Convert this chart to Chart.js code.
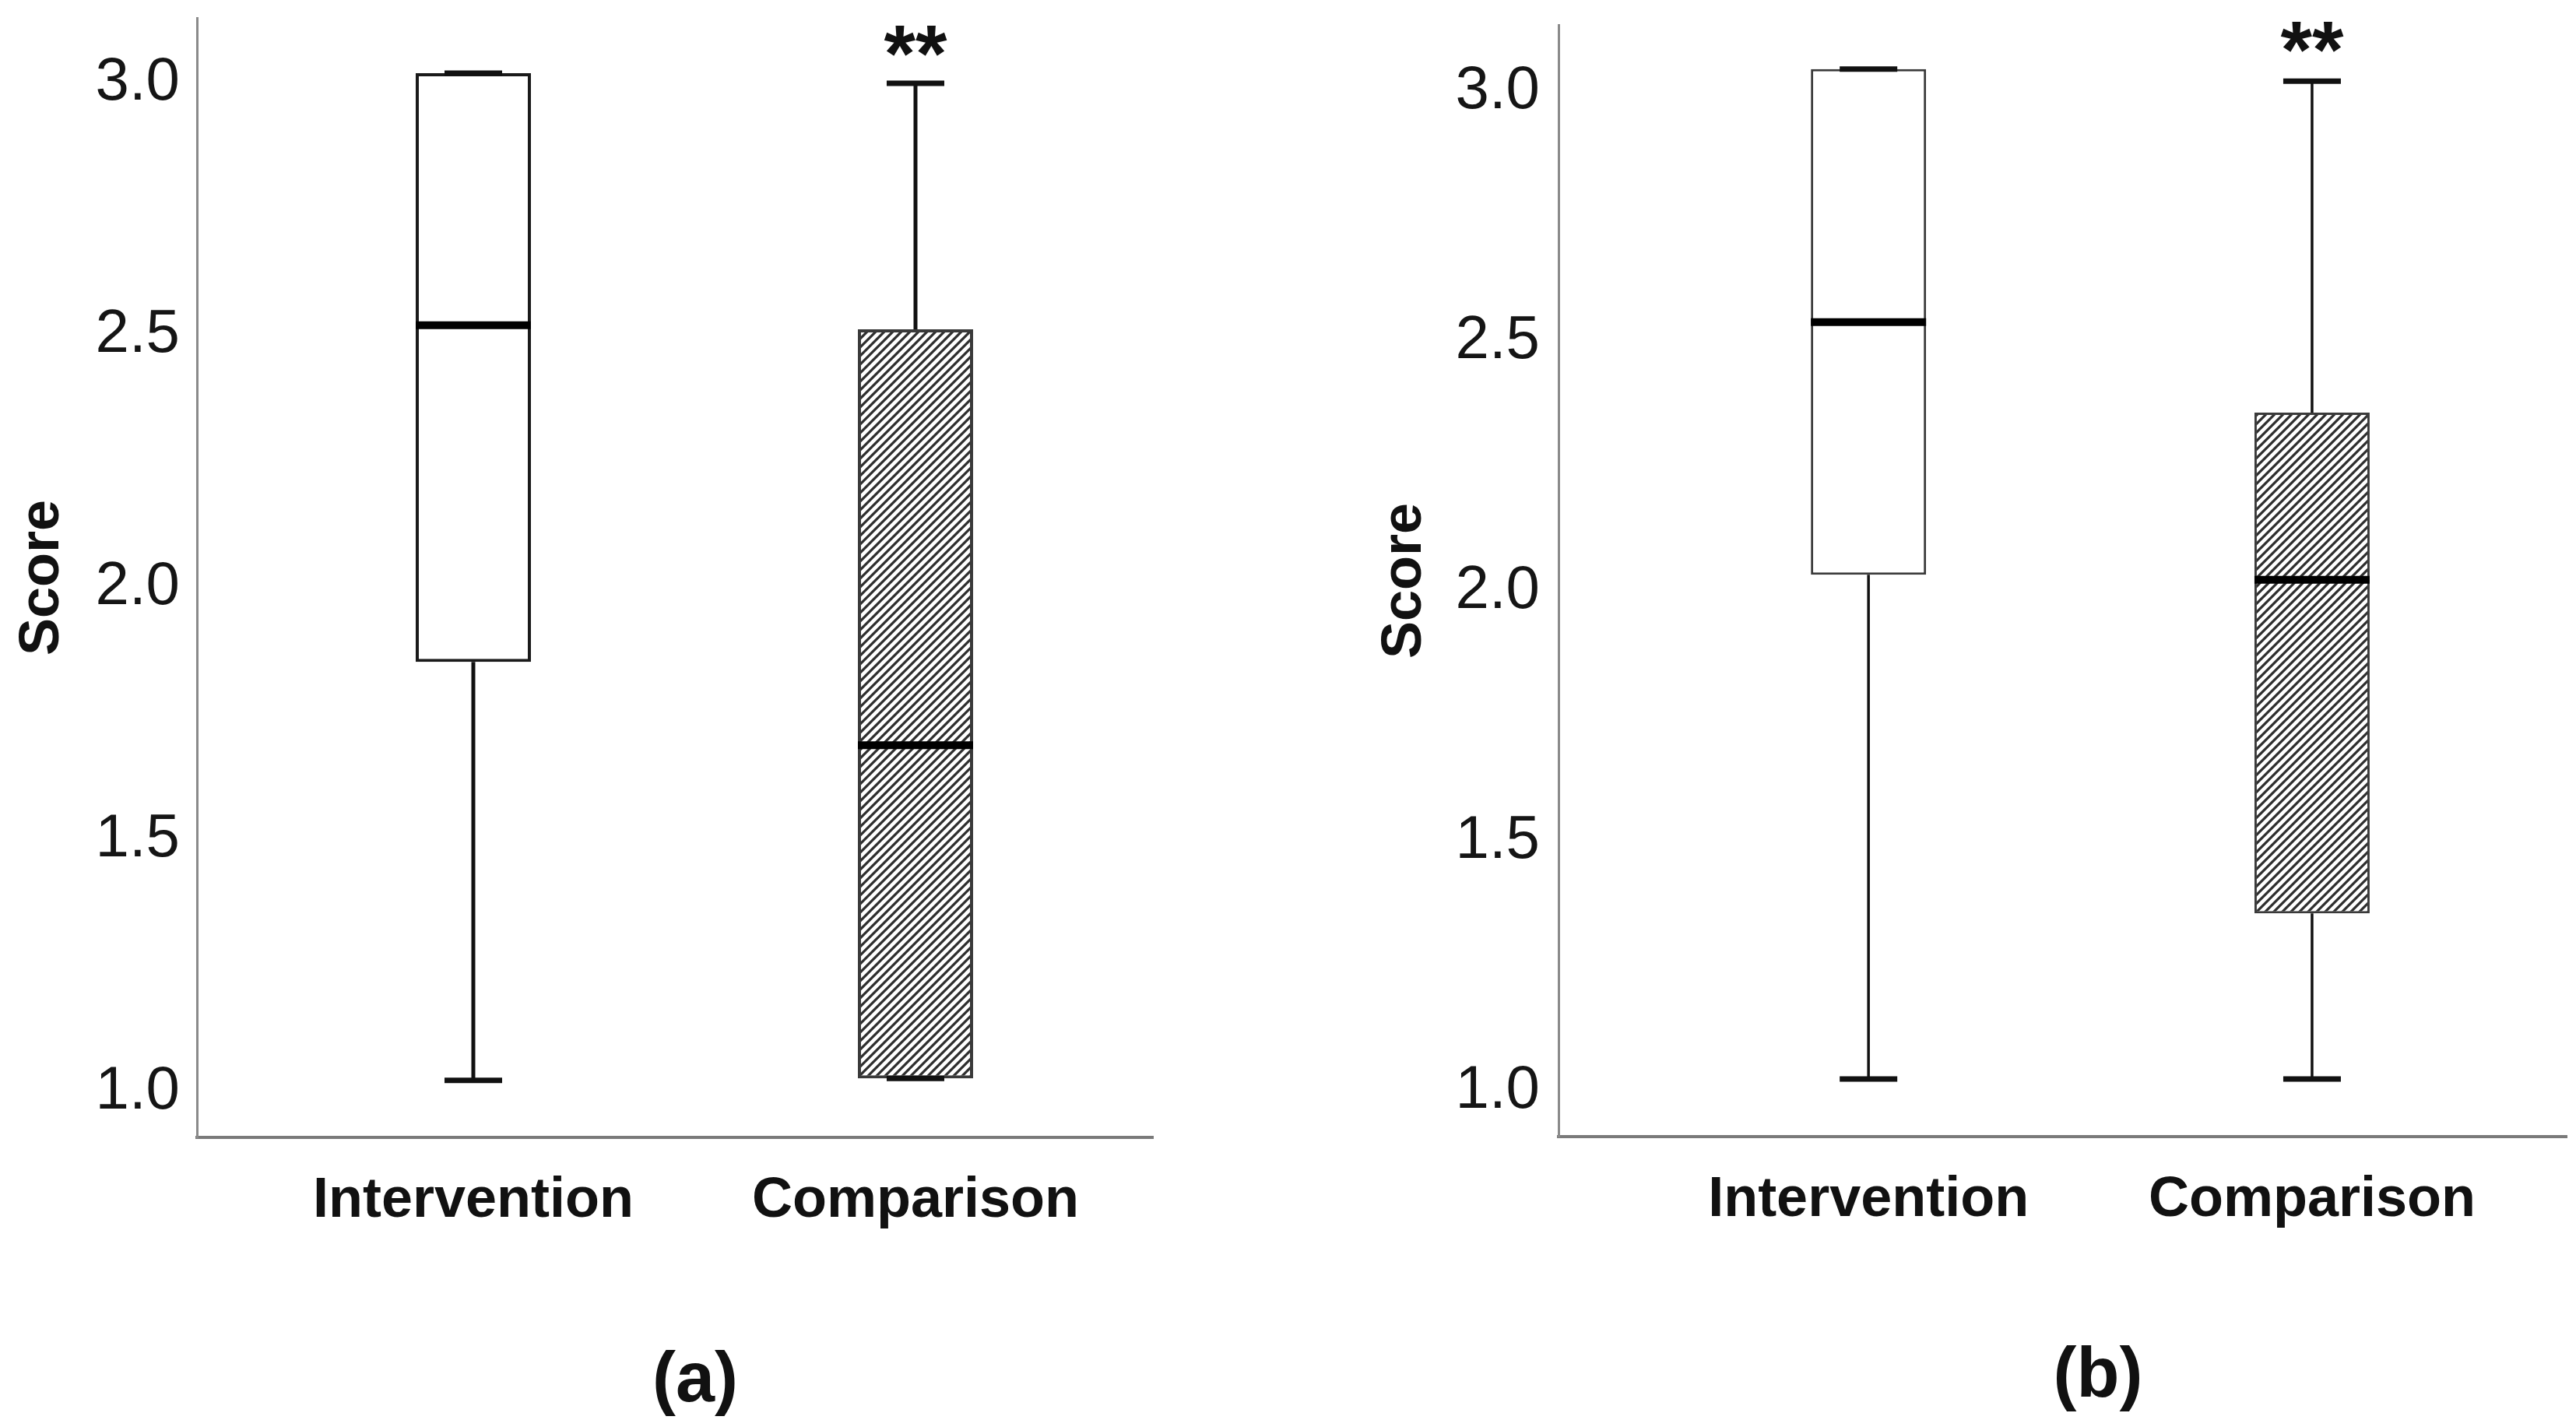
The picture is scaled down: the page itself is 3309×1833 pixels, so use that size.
<!DOCTYPE html>
<html>
<head>
<meta charset="utf-8">
<script src="https://cdn.jsdelivr.net/npm/chart.js@4.4.1/dist/chart.umd.min.js"></script>
<style>
  html, body { margin: 0; padding: 0; background: #ffffff; }
  .panel { position: absolute; top: 0; }
</style>
</head>
<body>
<div class="panel" style="left:0px;width:1650px;height:1833px;"><canvas id="chartA" width="1650" height="1833"></canvas></div>
<div class="panel" style="left:1650px;width:1659px;height:1833px;"><canvas id="chartB" width="1659" height="1833"></canvas></div>
<script>
// ---------------- data ----------------
const categories = ['Intervention', 'Comparison'];
const yTickValues = [1.0, 1.5, 2.0, 2.5, 3.0];
const yTickLabels = ['1.0', '1.5', '2.0', '2.5', '3.0'];
const yAxisTitle = 'Score';
const panelLabels = ['(a)', '(b)'];
const significance = ['', '**'];

// Panel (a): box-plot five-number summaries per category
const aMin    = [1.022, 1.026];
const aQ1     = [1.852, 1.026];
const aMedian = [2.520, 1.687];
const aQ3     = [3.020, 2.512];
const aMax    = [3.020, 3.000];

// Panel (b)
const bMin    = [1.025, 1.025];
const bQ1     = [2.033, 1.356];
const bMedian = [2.538, 2.023];
const bQ3     = [3.044, 2.357];
const bMax    = [3.044, 3.020];

// ---------------- styling helpers ----------------
const FONT = '"Liberation Sans", Arial, Helvetica, sans-serif';

function makeHatch() {
  const p = 11;
  const c = document.createElement('canvas');
  c.width = p; c.height = p;
  const g = c.getContext('2d');
  g.fillStyle = '#ffffff';
  g.fillRect(0, 0, p, p);
  g.strokeStyle = '#2e2e2e';
  g.lineWidth = 3.2;
  g.beginPath();
  g.moveTo(0, p); g.lineTo(p, 0);
  g.moveTo(-p / 2, p / 2); g.lineTo(p / 2, -p / 2);
  g.moveTo(p / 2, p * 1.5); g.lineTo(p * 1.5, p / 2);
  g.stroke();
  return g.createPattern(c, 'repeat');
}

const annotatePlugin = {
  id: 'annot',
  afterDraw(chart, args, opts) {
    const { ctx } = chart;
    const xs = chart.scales.x, ys = chart.scales.y;
    ctx.save();
    ctx.fillStyle = '#111111';
    ctx.textAlign = 'center';
    ctx.textBaseline = 'alphabetic';
    ctx.font = 'bold 104px ' + FONT;
    opts.marks.forEach((m, i) => {
      if (!m) return;
      ctx.fillText(m, xs.getPixelForValue(i + 1), ys.getPixelForValue(opts.max[i]) - opts.markGap);
    });
    ctx.font = 'bold 90px ' + FONT;
    ctx.fillText(opts.label, opts.labelX, opts.labelY);
    ctx.restore();
  }
};

function buildChart(canvasId, d, L) {
  const hatch = makeHatch();
  const pts = (arr) => arr.map((v, i) => ({ x: i + 1, y: v }));
  const rng = (lo, hi) => lo.map((v, i) => ({ x: i + 1, y: [v, hi[i]] }));

  const datasets = [
    { // medians
      type: 'scatter', order: 0, data: pts(d.median),
      pointStyle: 'line', pointRadius: L.boxW / 2, pointHoverRadius: L.boxW / 2, pointBorderWidth: 10,
      pointBorderColor: '#000000', pointBackgroundColor: '#000000', clip: false
    },
    { // whisker caps (max)
      type: 'scatter', order: 1, data: pts(d.max),
      pointStyle: 'line', pointRadius: L.capW / 2, pointHoverRadius: L.capW / 2, pointBorderWidth: 7,
      pointBorderColor: '#111111', clip: false
    },
    { // whisker caps (min)
      type: 'scatter', order: 1, data: pts(d.min),
      pointStyle: 'line', pointRadius: L.capW / 2, pointHoverRadius: L.capW / 2, pointBorderWidth: 7,
      pointBorderColor: '#111111', clip: false
    },
    { // boxes
      type: 'bar', order: 2, data: rng(d.q1, d.q3), grouped: false,
      maxBarThickness: L.boxW,
      backgroundColor: ['#ffffff', hatch],
      borderColor: [L.boxColor, '#3a3a3a'],
      borderWidth: L.boxBorder, borderSkipped: false
    },
    { // upper whiskers
      type: 'bar', order: 3, data: rng(d.q3, d.max), grouped: false,
      maxBarThickness: L.whiskerW, backgroundColor: '#111111', borderWidth: 0
    },
    { // lower whiskers
      type: 'bar', order: 3, data: rng(d.min, d.q1), grouped: false,
      maxBarThickness: L.whiskerW, backgroundColor: '#111111', borderWidth: 0
    }
  ];

  return new Chart(document.getElementById(canvasId), {
    type: 'bar',
    data: { datasets },
    plugins: [annotatePlugin],
    options: {
      responsive: false,
      animation: false,
      devicePixelRatio: 1,
      events: [],
      layout: { autoPadding: false, padding: { left: 0, top: L.padTop, right: L.padRight, bottom: 0 } },
      plugins: {
        legend: { display: false },
        tooltip: { enabled: false },
        annot: { marks: significance, max: d.max, markGap: L.markGap, label: L.label, labelX: L.labelX, labelY: L.labelY }
      },
      scales: {
        x: {
          type: 'linear', position: 'bottom', offset: false,
          min: L.xMin, max: L.xMax,
          afterBuildTicks: (s) => { s.ticks = categories.map((c, i) => ({ value: i + 1 })); },
          afterFit: (s) => { s.height = L.xAxisH; s.paddingLeft = 0; s.paddingRight = 0; },
          grid: { display: false, drawTicks: false },
          border: { display: true, color: '#7a7a7a', width: 4 },
          ticks: {
            autoSkip: false, maxRotation: 0, minRotation: 0, padding: L.xTickPad,
            color: '#111111', font: { family: FONT, size: 72, weight: 'bold' },
            callback: (v) => categories[Math.round(v) - 1]
          }
        },
        y: {
          type: 'linear', position: 'left',
          min: L.yMin, max: L.yMax,
          afterBuildTicks: (s) => { s.ticks = yTickValues.map((v) => ({ value: v })); },
          afterFit: (s) => { s.width = L.yAxisW; s.paddingTop = 0; s.paddingBottom = 0; },
          grid: { display: false, drawTicks: false },
          border: { display: true, color: '#8a8a8a', width: 3 },
          title: {
            display: true, text: yAxisTitle, color: '#111111',
            font: { family: FONT, size: 72, weight: 'bold' },
            padding: { top: L.yTitlePad, bottom: 0 }
          },
          ticks: {
            autoSkip: false, padding: L.yTickPad, color: '#151515',
            font: { family: FONT, size: 78, weight: 'normal' },
            callback: (v) => { const k = yTickValues.indexOf(v); return k >= 0 ? yTickLabels[k] : ''; }
          }
        }
      }
    }
  });
}

buildChart('chartA',
  { min: aMin, q1: aQ1, median: aMedian, q3: aQ3, max: aMax },
  { padTop: 23, padRight: 169, xAxisH: 372, yAxisW: 253, yTitlePad: 12, yTickPad: 22, xTickPad: 39,
    yMin: 0.9089, yMax: 3.1297, xMin: 0.375, xMax: 2.537,
    boxW: 148, capW: 74, whiskerW: 5, boxBorder: 4, boxColor: '#1a1a1a',
    markGap: 2, label: panelLabels[0], labelX: 893, labelY: 1800 });

buildChart('chartB',
  { min: bMin, q1: bQ1, median: bMedian, q3: bQ3, max: bMax },
  { padTop: 32, padRight: 12, xAxisH: 373, yAxisW: 352, yTitlePad: 112, yTickPad: 24, xTickPad: 39,
    yMin: 0.9097, yMax: 3.1323, xMin: 0.3012, xMax: 2.574,
    boxW: 148, capW: 74, whiskerW: 3.5, boxBorder: 3, boxColor: '#3a3a3a',
    markGap: 4, label: panelLabels[1], labelX: 1045, labelY: 1794 });
</script>
</body>
</html>
